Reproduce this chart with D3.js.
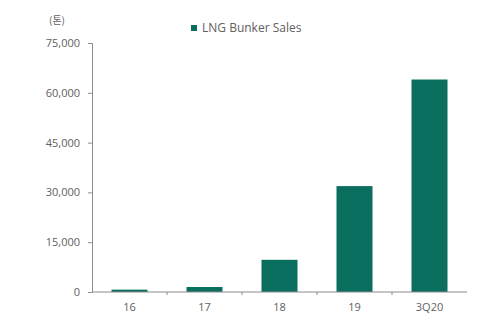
<!DOCTYPE html>
<html>
<head>
<meta charset="utf-8">
<script src="https://cdn.jsdelivr.net/npm/d3@7"></script>
<style>
  html, body { margin: 0; padding: 0; background: #fff; }
  svg { display: block; }
  text { font-family: "Open Sans", "Noto Sans", "Noto Sans CJK KR", sans-serif; fill: #606060; }
</style>
</head>
<body>
<svg id="chart" width="484" height="321"></svg>
<script>
// LNG bunker sales by year (tonnes)
const categories = ["16", "17", "18", "19", "3Q20"];
const sales = [700, 1500, 9700, 31900, 64000];
const yTicks = [0, 15000, 30000, 45000, 60000, 75000];
const seriesName = "LNG Bunker Sales";
const unitLabel = "(톤)";

const svg = d3.select("#chart");
const margin = { top: 43, right: 17, bottom: 29, left: 92 };
const W = 484, H = 321;
const innerW = W - margin.left - margin.right;
const innerH = H - margin.top - margin.bottom;
const barColor = "#0a6e5e";
const axisColor = "#8c8c8c";

const g = svg.append("g").attr("transform", `translate(${margin.left},${margin.top})`);

const x = d3.scaleBand().domain(categories).range([0, innerW]).paddingInner(0.52).paddingOuter(0.26);
const y = d3.scaleLinear().domain([0, 75000]).range([innerH, 0]);

// bars
g.selectAll("rect.bar")
  .data(categories.map((c, i) => ({ c, v: sales[i] })))
  .join("rect")
  .attr("class", "bar")
  .attr("x", d => x(d.c))
  .attr("y", d => y(d.v))
  .attr("width", x.bandwidth())
  .attr("height", d => innerH - y(d.v))
  .attr("fill", barColor);

// y axis
const yAxis = g.append("g")
  .call(d3.axisLeft(y).tickValues(yTicks).tickFormat(d3.format(",")).tickSize(4).tickPadding(8));
yAxis.select(".domain").attr("stroke", axisColor);
yAxis.selectAll(".tick line").attr("stroke", axisColor);
yAxis.selectAll("text").style("font-size", "11px").attr("fill", "#606060");

// x axis: baseline with ticks between categories
const xAxisG = g.append("g").attr("transform", `translate(0,${innerH})`);
xAxisG.append("line").attr("x1", 0).attr("x2", innerW).attr("stroke", axisColor);
const step = x.step();
const bounds = d3.range(0, categories.length + 1).map(i => x(categories[0]) - x.step() * x.paddingInner() / 2 + i * step);
xAxisG.selectAll("line.sep")
  .data(bounds.slice(1, -1))
  .join("line")
  .attr("class", "sep")
  .attr("x1", d => d).attr("x2", d => d)
  .attr("y1", 0).attr("y2", 3)
  .attr("stroke", axisColor);
xAxisG.selectAll("text.cat")
  .data(categories)
  .join("text")
  .attr("class", "cat")
  .attr("x", d => x(d) + x.bandwidth() / 2)
  .attr("y", 19)
  .attr("text-anchor", "middle")
  .style("font-size", "11px")
  .text(d => d);

// unit label
svg.append("text")
  .attr("x", 57).attr("y", 24)
  .attr("text-anchor", "middle")
  .style("font-size", "10px")
  .style("font-family", "'Noto Sans CJK KR', sans-serif")
  .text(unitLabel);

// legend
const lg = svg.append("g").attr("transform", "translate(191,28)");
lg.append("rect").attr("x", 0).attr("y", -3).attr("width", 6).attr("height", 6).attr("fill", barColor);
lg.append("text").attr("x", 11).attr("y", 4).style("font-size", "12px").text(seriesName);
</script>
</body>
</html>
